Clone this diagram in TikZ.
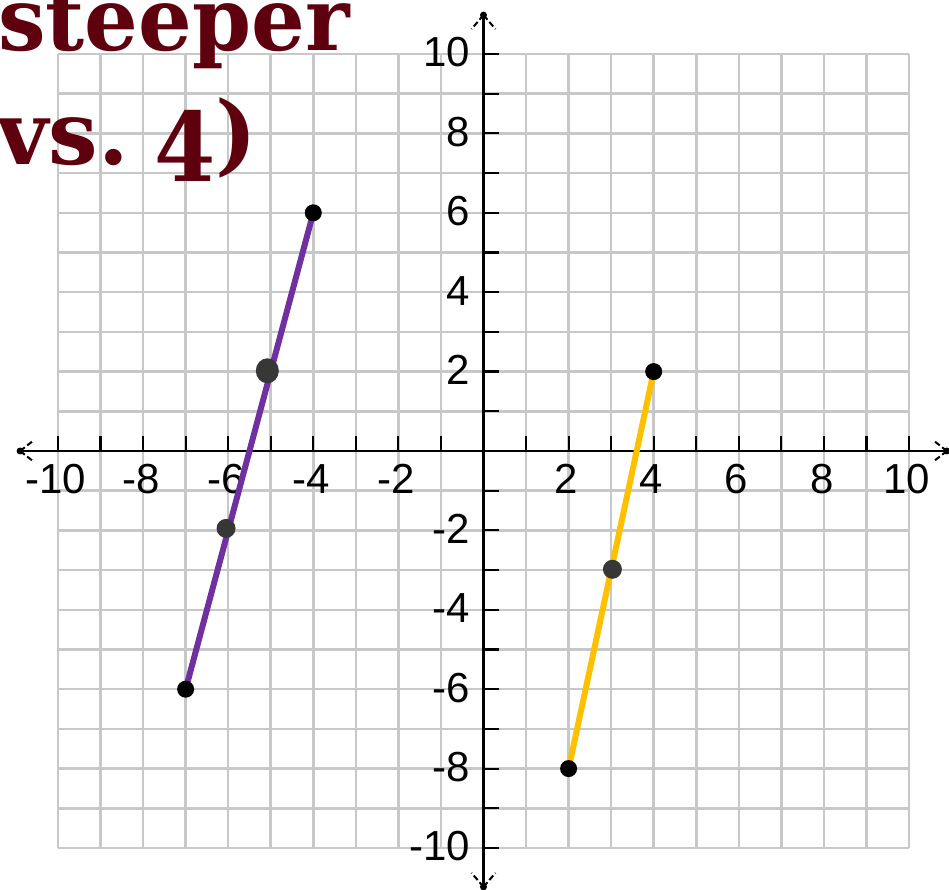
\documentclass[tikz,border=0pt]{standalone}
\usepackage{fontspec}
\usepackage{graphicx}
\usetikzlibrary{shapes.geometric}
\setmainfont{Liberation Sans}
\newfontfamily\titlefont{DejaVu Serif}
\definecolor{gridgray}{RGB}{200,200,200}
\definecolor{titlered}{RGB}{95,0,15}
\definecolor{linepurple}{RGB}{112,48,160}
\definecolor{lineorange}{RGB}{255,192,0}
\definecolor{dotgray}{RGB}{55,55,55}
\begin{document}
\begin{tikzpicture}[x=42.55pt, y=39.7pt,
  gridline/.style={draw=gridgray, line width=2.5pt},
  axisline/.style={draw=black, line width=2.5pt},
  tickline/.style={draw=black, line width=2.2pt},
  arrowleg/.style={draw=black, line width=2pt, dash pattern=on 6pt off 3pt},
  tipdot/.style={circle, fill=black, inner sep=0pt, minimum size=7pt},
  ticklabel/.style={font=\fontsize{42}{42}\selectfont, inner sep=0pt},
  purpleseg/.style={draw=linepurple, line width=6pt},
  orangeseg/.style={draw=lineorange, line width=6pt},
  enddot/.style={circle, fill=black, inner sep=0pt, minimum size=17pt},
  middot/.style={circle, fill=dotgray, inner sep=0pt, minimum size=19pt},
  bigdot/.style={ellipse, fill=dotgray, inner sep=0pt, minimum width=23pt, minimum height=25pt},
  titletext/.style={font=\titlefont\bfseries\fontsize{88}{100}\selectfont, text=titlered, inner sep=0pt, anchor=base west}
]
\useasboundingbox (-11.363,-11.058) rectangle (10.940,11.360);
% grid
\foreach \k in {-10,...,10} {
  \draw[gridline] (\k,-10) -- (\k,10);
  \draw[gridline] (-10,\k) -- (10,\k);
}
% axes
\coordinate (xleft) at (-10.89,0);
\coordinate (xright) at (10.89,0);
\coordinate (ytop) at (0,10.98);
\coordinate (ybot) at (0,-10.98);
\draw[axisline] (xleft) -- (xright);
\draw[axisline] (ybot) -- (ytop);
% arrow heads
\draw[arrowleg] (ytop) -- ++(-12pt,-14pt);
\draw[arrowleg] (ytop) -- ++(12pt,-14pt);
\draw[arrowleg] (ybot) -- ++(-12pt,14pt);
\draw[arrowleg] (ybot) -- ++(12pt,14pt);
\draw[arrowleg] (xleft) -- ++(14pt,11pt);
\draw[arrowleg] (xleft) -- ++(14pt,-11pt);
\draw[arrowleg] (xright) -- ++(-14pt,11pt);
\draw[arrowleg] (xright) -- ++(-14pt,-11pt);
\node[tipdot] (tt) at (ytop) {};
\node[tipdot] (tb) at (ybot) {};
\node[tipdot] (tl) at (xleft) {};
\node[tipdot] (tr) at (xright) {};
% ticks
\foreach \i in {-10,...,10} {
  \draw[tickline] (\i,0) -- ++(0,15pt);
  \draw[tickline] (0,\i) -- ++(16pt,0);
}
% labels
\foreach \v in {-10,-8,-6,-4,-2,2,4,6,8,10} {
  \node[ticklabel] (xl\v) at (\v-0.05,-0.705) {\v};
  \node[ticklabel, anchor=east] (yl\v) at (-0.317,\v+0.04) {\v};
}
% purple segment
\coordinate (pa) at (-7,-6);
\coordinate (pb) at (-4,6);
\draw[purpleseg] (pa) -- (pb);
\node[enddot] (pda) at (pa) {};
\node[enddot] (pdb) at (pb) {};
\node[bigdot] (pm1) at (-5.08,2.02) {};
\node[middot] (pm2) at (-6.05,-1.95) {};
% orange segment
\coordinate (oa) at (2,-8);
\coordinate (ob) at (4,2);
\draw[orangeseg] (oa) -- (ob);
\node[enddot] (oda) at (oa) {};
\node[enddot] (odb) at (ob) {};
\node[middot] (om) at (3.03,-2.98) {};
% title
\node[titletext] (t1) at (-11.41,10.10) {\scalebox{0.96}[1]{steeper}};
\node[titletext] (t2) at (-11.43,7.204) {vs. \kern-15pt\raisebox{-17pt}{\scalebox{1}[1.09]{4}})};
\end{tikzpicture}
\end{document}
